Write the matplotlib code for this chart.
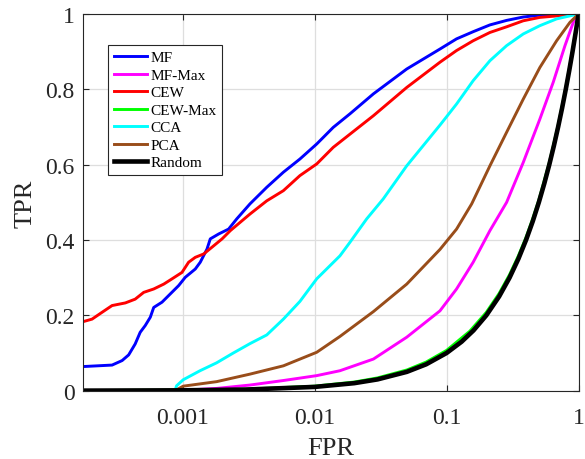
import numpy as np
import matplotlib
matplotlib.use("Agg")
import matplotlib.pyplot as plt
from matplotlib.ticker import FixedLocator, FixedFormatter, NullLocator

plt.rcParams['font.family'] = ['Liberation Serif', 'DejaVu Serif']

# ROC curves (FPR on log axis, TPR linear)
mf_fpr = [1.75e-4, 2.92e-4, 3.48e-4, 3.90e-4, 4.37e-4, 4.77e-4, 5.21e-4, 5.69e-4, 6.04e-4,
          6.98e-4, 8.07e-4, 9.33e-4, 1.047e-3, 1.247e-3, 1.36e-3, 1.53e-3, 1.62e-3, 1.875e-3,
          2.23e-3, 2.57e-3, 3.24e-3, 4.34e-3, 5.8e-3, 7.74e-3, 0.01038, 0.01384, 0.01853,
          0.0279, 0.0499, 0.0891, 0.119, 0.159, 0.213, 0.285, 0.381, 0.509, 1.0]
mf_tpr = [0.064, 0.068, 0.080, 0.095, 0.124, 0.155, 0.173, 0.195, 0.221,
          0.235, 0.257, 0.279, 0.301, 0.323, 0.341, 0.376, 0.403, 0.416,
          0.429, 0.456, 0.496, 0.540, 0.580, 0.615, 0.655, 0.699, 0.735,
          0.788, 0.854, 0.907, 0.934, 0.953, 0.971, 0.983, 0.992, 0.997, 1.0]

cew_fpr = [1.75e-4, 2.06e-4, 2.45e-4, 2.92e-4, 3.68e-4, 4.37e-4, 5.07e-4, 6.04e-4, 7.2e-4,
           8.32e-4, 9.89e-4, 1.11e-3, 1.247e-3, 1.445e-3, 1.67e-3, 1.99e-3, 2.30e-3, 3.24e-3,
           4.34e-3, 5.8e-3, 7.74e-3, 0.01038, 0.01384, 0.01853, 0.0279, 0.0499, 0.0891,
           0.119, 0.159, 0.213, 0.285, 0.381, 0.509, 1.0]
cew_tpr = [0.183, 0.190, 0.208, 0.226, 0.233, 0.243, 0.261, 0.270, 0.283,
           0.297, 0.314, 0.341, 0.354, 0.363, 0.381, 0.403, 0.425, 0.469,
           0.504, 0.531, 0.571, 0.602, 0.646, 0.681, 0.730, 0.805, 0.872,
           0.903, 0.929, 0.951, 0.966, 0.982, 0.991, 1.0]

cca_fpr = [8.75e-4, 9.0e-4, 1.01e-3, 1.355e-3, 1.81e-3, 2.42e-3, 3.24e-3, 4.34e-3, 5.8e-3,
           7.74e-3, 0.01038, 0.01556, 0.01853, 0.0248, 0.0331, 0.0499, 0.0891, 0.119,
           0.159, 0.213, 0.285, 0.381, 0.509, 0.682, 0.912, 1.0]
cca_tpr = [0.0, 0.013, 0.029, 0.053, 0.074, 0.100, 0.125, 0.148, 0.19,
           0.237, 0.297, 0.358, 0.394, 0.456, 0.509, 0.597, 0.705, 0.761,
           0.823, 0.876, 0.916, 0.947, 0.969, 0.987, 0.997, 1.0]

pca_fpr = [8.75e-4, 1.01e-3, 1.81e-3, 3.24e-3, 5.8e-3, 0.01038, 0.01556, 0.0279, 0.0499,
           0.0891, 0.119, 0.155, 0.213, 0.285, 0.381, 0.509, 0.682, 0.861, 1.0]
pca_tpr = [0.0, 0.012, 0.024, 0.044, 0.066, 0.102, 0.144, 0.21, 0.283,
           0.375, 0.429, 0.496, 0.597, 0.686, 0.774, 0.858, 0.929, 0.978, 1.0]

mfmax_fpr = [8.75e-4, 1.81e-3, 3.24e-3, 5.8e-3, 0.01038, 0.01556, 0.0279, 0.0499, 0.0891,
             0.119, 0.159, 0.213, 0.285, 0.381, 0.509, 0.643, 0.789, 0.912, 1.0]
mfmax_tpr = [0.0, 0.006, 0.015, 0.027, 0.040, 0.053, 0.084, 0.142, 0.212,
             0.270, 0.341, 0.425, 0.500, 0.606, 0.721, 0.819, 0.916, 0.978, 1.0]

cewmax_fpr = [1.75e-4, 0.001, 0.003, 0.01, 0.02, 0.03, 0.05, 0.07, 0.1, 0.15, 0.2, 0.25,
              0.3, 0.35, 0.4, 0.45, 0.5, 0.6, 0.7, 0.8, 0.9, 1.0]
cewmax_tpr = [0.0003, 0.0015, 0.004, 0.012, 0.023, 0.034, 0.055, 0.076, 0.107, 0.158, 0.208, 0.258,
              0.308, 0.358, 0.407, 0.457, 0.506, 0.605, 0.704, 0.803, 0.902, 1.0]

rand_fpr = [1.75e-4, 0.001, 0.003, 0.01, 0.02, 0.03, 0.05, 0.07, 0.1, 0.13, 0.16, 0.2, 0.25,
            0.3, 0.35, 0.4, 0.45, 0.5, 0.55, 0.6, 0.65, 0.7, 0.75, 0.8, 0.85, 0.9, 0.95, 1.0]
rand_tpr = [1.75e-4, 0.001, 0.003, 0.01, 0.02, 0.03, 0.05, 0.07, 0.1, 0.13, 0.16, 0.2, 0.25,
            0.3, 0.35, 0.4, 0.45, 0.5, 0.55, 0.6, 0.65, 0.7, 0.75, 0.8, 0.85, 0.9, 0.95, 1.0]

xticks = [0.001, 0.01, 0.1, 1]
xticklabels = ['0.001', '0.01', '0.1', '1']
yticks = [0, 0.2, 0.4, 0.6, 0.8, 1]
yticklabels = ['0', '0.2', '0.4', '0.6', '0.8', '1']

fig = plt.figure(figsize=(5.85, 4.6), dpi=100)
ax = fig.add_axes([0.1414, 0.1485, 0.8476, 0.8189])

lw = 2.1
ax.plot(mf_fpr, mf_tpr, color=(0, 0, 1), lw=lw, label='MF')
ax.plot(mfmax_fpr, mfmax_tpr, color=(1, 0, 1), lw=lw, label='MF-Max')
ax.plot(cew_fpr, cew_tpr, color=(1, 0, 0), lw=lw, label='CEW')
ax.plot(cewmax_fpr, cewmax_tpr, color=(0, 1, 0), lw=lw, label='CEW-Max')
ax.plot(cca_fpr, cca_tpr, color=(0, 1, 1), lw=lw, label='CCA')
ax.plot(pca_fpr, pca_tpr, color=(0.6, 0.3, 0.1), lw=lw, label='PCA')
ax.plot(rand_fpr, rand_tpr, color='black', lw=3.3, label='Random')

ax.set_xscale('log')
ax.set_xlim(1.75e-4, 1)
ax.set_ylim(0, 1)
ax.xaxis.set_major_locator(FixedLocator(xticks))
ax.xaxis.set_major_formatter(FixedFormatter(xticklabels))
ax.xaxis.set_minor_locator(NullLocator())
ax.set_yticks(yticks)
ax.set_yticklabels(yticklabels)

ax.grid(True, color='#dedede', lw=0.9)
ax.set_axisbelow(True)
ax.tick_params(direction='in', top=True, right=True, length=4, width=0.8,
               colors='#262626', labelsize=17)
ax.tick_params(axis='x', pad=12)
ax.tick_params(axis='y', pad=6)
for s in ax.spines.values():
    s.set_color('#262626')
    s.set_linewidth(0.8)

ax.set_xlabel('FPR', fontsize=19, color='#262626', labelpad=6)
ax.set_ylabel('TPR', fontsize=19, color='#262626', labelpad=6)

leg = ax.legend(loc='upper left', bbox_to_anchor=(0.051, 0.918), fontsize=11,
                frameon=True, fancybox=False, edgecolor='#262626', framealpha=1,
                handlelength=2.2, handletextpad=0.2, labelspacing=0.25,
                borderpad=0.38, borderaxespad=0)
leg.get_frame().set_linewidth(0.8)

fig.savefig('out.png', dpi=100)
